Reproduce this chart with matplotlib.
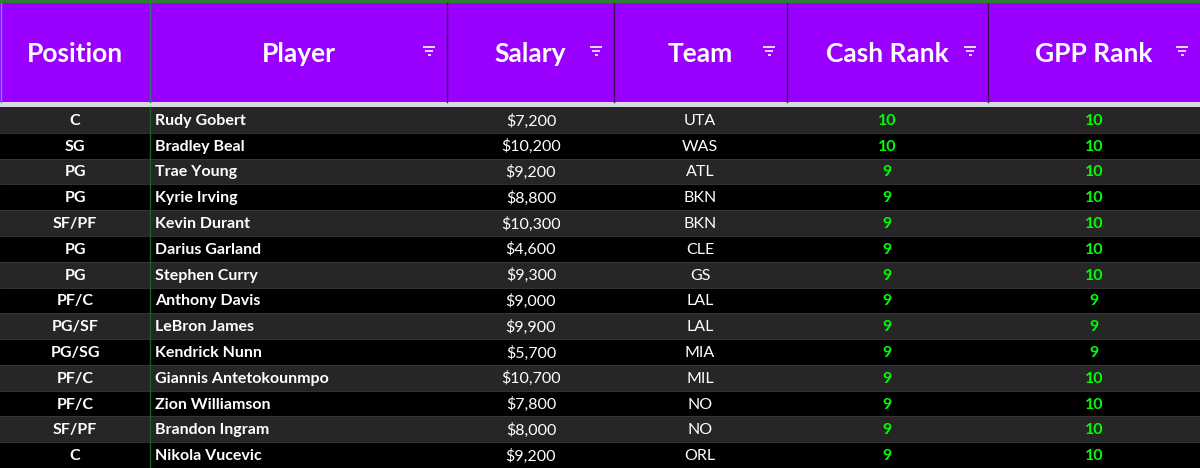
import matplotlib
matplotlib.use("Agg")
import matplotlib.pyplot as plt
from matplotlib.patches import Rectangle

headers = ["Position", "Player", "Salary", "Team", "Cash Rank", "GPP Rank"]
positions = ["C","SG","PG","PG","SF/PF","PG","PG","PF/C","PG/SF","PG/SG","PF/C","PF/C","SF/PF","C"]
players = ["Rudy Gobert","Bradley Beal","Trae Young","Kyrie Irving","Kevin Durant","Darius Garland",
           "Stephen Curry","Anthony Davis","LeBron James","Kendrick Nunn","Giannis Antetokounmpo",
           "Zion Williamson","Brandon Ingram","Nikola Vucevic"]
salaries = [7200,10200,9200,8800,10300,4600,9300,9000,9900,5700,10700,7800,8000,9200]
teams = ["UTA","WAS","ATL","BKN","BKN","CLE","GS","LAL","LAL","MIA","MIL","NO","NO","ORL"]
cash_rank = [10,10,9,9,9,9,9,9,9,9,9,9,9,9]
gpp_rank = [10,10,10,10,10,10,10,9,9,9,10,10,10,10]

W, H = 1200, 468
col_edges = [0, 150, 447, 614, 787, 988, 1200]
header_top, header_bot = 3, 102
row_top = 107
row_h = (H - row_top) / len(players)

fig = plt.figure(figsize=(W/100, H/100), dpi=100)
ax = fig.add_axes([0, 0, 1, 1])
ax.set_xlim(0, W); ax.set_ylim(H, 0); ax.axis("off")
fig.patch.set_facecolor("#dcdcdc")
font = "Lato"

# header
ax.add_patch(Rectangle((0, 0), W, header_top, color="#2e7d32", lw=0))
ax.add_patch(Rectangle((0, header_top), W, header_bot-header_top, color="#9900ff", lw=0))
ax.add_patch(Rectangle((0, header_bot), W, row_top-header_bot, color="#d9d9e3", lw=0))
for i, h in enumerate(headers):
    x0, x1 = col_edges[i], col_edges[i+1]
    ax.text((x0+x1)/2, 54, h, color="white", fontsize=19, fontweight="bold",
            family=font, ha="center", va="center")
    if i > 0:
        ax.plot([x0, x0], [header_top, header_bot], color="#3a1050" if i != 1 else "#2e7d6a", lw=1)
        fx = x1 - 18
        for k, hw in enumerate([6, 4, 1.5]):
            y = 47 + k*4
            ax.plot([fx-hw, fx+hw], [y, y], color="white", lw=1.2, solid_capstyle="butt")
ax.plot([0.5, 0.5], [header_top, header_bot], color="#3aa0e0", lw=1)

# rows
for r in range(len(players)):
    y0 = row_top + r*row_h
    ax.add_patch(Rectangle((0, y0), W, row_h, color="#262626" if r % 2 == 0 else "#000000", lw=0))
    yc = y0 + row_h/2 + 1
    kw = dict(fontsize=11.5, fontweight="bold", family=font, va="center")
    ax.text(75, yc, positions[r], color="white", ha="center", **kw)
    ax.text(155, yc, players[r], color="white", ha="left", **kw)
    ax.text(531, yc, f"${salaries[r]:,}", color="white", ha="center", **{**kw, "fontweight": "normal"})
    ax.text(700, yc, teams[r], color="white", ha="center", **{**kw, "fontweight": "normal"})
    ax.text(887, yc, str(cash_rank[r]), color="#00ff00", ha="center", **kw)
    ax.text(1094, yc, str(gpp_rank[r]), color="#00ff00", ha="center", **kw)
    ax.plot([0, W], [y0+row_h, y0+row_h], color="#3a3a3a", lw=0.6)
ax.plot([150, 150], [row_top, H], color="#1b5e20", lw=1)

fig.savefig("out.png", dpi=100, facecolor=fig.get_facecolor())
